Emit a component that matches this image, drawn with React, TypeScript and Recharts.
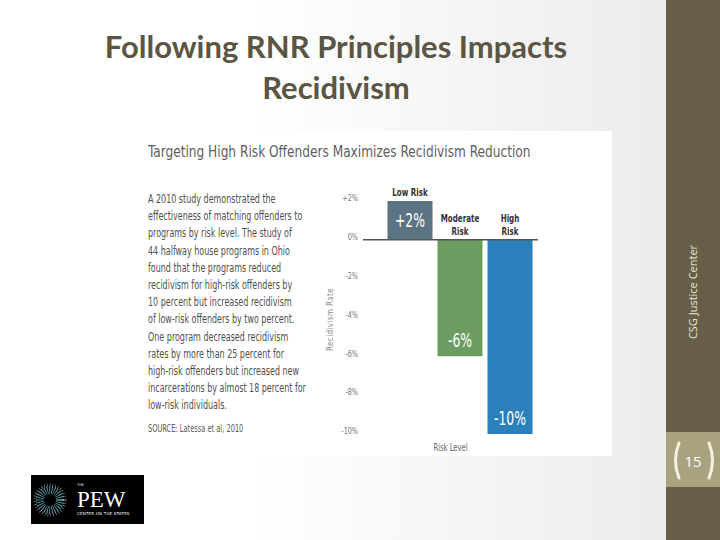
import React from 'react';
import { BarChart, Bar, XAxis, YAxis, Cell, LabelList, ReferenceLine } from 'recharts';

// values
const categories = ['Low Risk', 'Moderate Risk', 'High Risk'];
const changes = [2, -6, -10];
const barColors = ['#5b7383', '#6a9d5f', '#2a80ba'];
const yTicks = [2, 0, -2, -4, -6, -8, -10];

const blurb = [
    'A 2010 study demonstrated the',
    'effectiveness of matching offenders to',
    'programs by risk level. The study of',
    '44 halfway house programs in Ohio',
    'found that the programs reduced',
    'recidivism for high-risk offenders by',
    '10 percent but increased recidivism',
    'of low-risk offenders by two percent.',
    'One program decreased recidivism',
    'rates by more than 25 percent for',
    'high-risk offenders but increased new',
    'incarcerations by almost 18 percent for',
    'low-risk individuals.',
];

const data = categories.map((name, i) => ({ name, change: changes[i] }));

const NARROW = '"Liberation Sans Narrow", "DejaVu Sans Condensed", "DejaVu Sans", sans-serif';

const pct = (v: number) => (v > 0 ? `+${v}%` : `${v}%`);

// svg text squeezed horizontally, the source chart uses a condensed face
const Squeezed = ({ x, y, k, rotate, children, ...rest }: any) => (
    <text
        transform={`translate(${x} ${y})${rotate ? ` rotate(${rotate})` : ''} scale(${k} 1)`}
        fontFamily={NARROW}
        dominantBaseline="central"
        {...rest}
    >
        {children}
    </text>
);

function box(props: any) {
    const vb = props.viewBox && props.viewBox.width !== undefined ? props.viewBox : props;
    const { x, y, width, height } = vb;
    return { cx: x + width / 2, top: Math.min(y, y + height), bottom: Math.max(y, y + height) };
}

const ValueLabel = (props: any) => {
    const { cx, top, bottom } = box(props);
    const v = Number(props.value);
    const ty = v >= 0 ? (top + bottom) / 2 : bottom - 16;
    return (
        <Squeezed x={cx} y={ty} k={0.69} textAnchor="middle" fill="#fff" fontSize={20}>
            {pct(v)}
        </Squeezed>
    );
};

const NameLabel = (props: any) => {
    const { cx, top } = box(props);
    const i = categories.indexOf(props.value);
    const common = { textAnchor: 'middle', fill: '#333', fontSize: 11, fontWeight: 700, k: 0.72 };
    if (changes[i] >= 0) {
        return (
            <Squeezed x={cx} y={top - 9} {...common}>
                {props.value}
            </Squeezed>
        );
    }
    const words = String(props.value).split(' ');
    return (
        <Squeezed x={cx} y={top - 9} {...common}>
            <tspan x={0} y={-13}>{words[0]}</tspan>
            <tspan x={0} y={0}>{words[1]}</tspan>
        </Squeezed>
    );
};

const YTick = (props: any) => (
    <Squeezed x={props.x} y={props.y - 3} k={0.8} textAnchor="end" fill="#777" fontSize={9}>
        {pct(props.payload.value)}
    </Squeezed>
);

const YTitle = (props: any) => {
    const vb = props.viewBox;
    return (
        <Squeezed x={vb.x + 40} y={vb.y + vb.height / 2 + 2} rotate={-90} k={0.85} textAnchor="middle" fill="#8a8a8a" fontSize={9.5} letterSpacing={0.4}>
            Recidivism Rate
        </Squeezed>
    );
};

const XTitle = (props: any) => {
    const vb = props.viewBox;
    return (
        <Squeezed x={vb.x + vb.width / 2} y={vb.y + 14} k={0.72} textAnchor="middle" fill="#666" fontSize={10.5}>
            Risk Level
        </Squeezed>
    );
};

function PewLogo() {
    return (
        <svg width={113} height={49} style={{ position: 'absolute', left: 31, top: 475 }}>
            <rect width={113} height={49} fill="#000" />
            <circle cx={19} cy={25} r={10} fill="none" stroke="#5fa7b5" strokeWidth={8} strokeDasharray="0.8 1.4" />
            <circle cx={19} cy={25} r={15} fill="none" stroke="#c9dfe4" strokeWidth={3} strokeDasharray="0.6 2.2" opacity={0.7} />
            <text x={46} y={11} fill="#fff" fontSize={3.5} fontFamily="DejaVu Sans">THE</text>
            <text x={46} y={32} fill="#fff" fontSize={23} fontFamily='"Liberation Serif", serif'>PEW</text>
            <text x={46} y={40} fill="#fff" fontSize={4} fontFamily="DejaVu Sans" letterSpacing={0.2}>CENTER ON THE STATES</text>
        </svg>
    );
}

function Sidebar() {
    return (
        <svg width={54} height={540} style={{ position: 'absolute', left: 666, top: 0 }}>
            <rect width={54} height={540} fill="#665e48" />
            <text
                x={26}
                y={292}
                transform="rotate(-90 26 292)"
                textAnchor="middle"
                dominantBaseline="central"
                fill="#ebe7d6"
                fontSize={11}
                fontFamily='"Open Sans", sans-serif'
            >
                CSG Justice Center
            </text>
            <rect x={0} y={432} width={54} height={55} fill="#a9a27e" />
            <path d="M 13 443 Q 6 460.5 13 478" fill="none" stroke="#f4f1e4" strokeWidth={3} strokeLinecap="round" />
            <path d="M 43 443 Q 50 460.5 43 478" fill="none" stroke="#f4f1e4" strokeWidth={3} strokeLinecap="round" />
            <text x={27} y={461} textAnchor="middle" dominantBaseline="central" fill="#fff" fontSize={15} fontFamily='"Open Sans", sans-serif'>
                15
            </text>
        </svg>
    );
}

export default function App() {
    return (
        <div
            style={{
                position: 'relative',
                width: 720,
                height: 540,
                overflow: 'hidden',
                background: 'linear-gradient(to right, #ffffff 35%, #e9e9e9 100%)',
            }}
        >
            <style>{'body{margin:0}'}</style>
            <div
                style={{
                    position: 'absolute',
                    left: 0,
                    top: 26,
                    width: 672,
                    textAlign: 'center',
                    fontFamily: 'Lato, sans-serif',
                    fontWeight: 700,
                    fontSize: 31,
                    lineHeight: '41px',
                    color: '#5b5543',
                }}
            >
                Following RNR Principles Impacts
                <br />
                Recidivism
            </div>

            <div style={{ position: 'absolute', left: 140, top: 131, width: 472, height: 325, background: '#fff' }}>
                <div
                    style={{
                        position: 'absolute',
                        left: 8,
                        top: 11,
                        fontFamily: NARROW,
                        fontSize: 16.5,
                        color: '#5e5e5e',
                        whiteSpace: 'nowrap',
                        transform: 'scaleX(0.82)',
                        transformOrigin: 'left top',
                    }}
                >
                    Targeting High Risk Offenders Maximizes Recidivism Reduction
                </div>
                <div
                    style={{
                        position: 'absolute',
                        left: 8,
                        top: 60,
                        fontFamily: NARROW,
                        fontSize: 12,
                        lineHeight: '17.2px',
                        color: '#505050',
                        whiteSpace: 'nowrap',
                        transform: 'scaleX(0.74)',
                        transformOrigin: 'left top',
                    }}
                >
                    {blurb.map((l) => (
                        <div key={l}>{l}</div>
                    ))}
                    <div style={{ fontSize: 10, marginTop: 5, color: '#5a5a5a' }}>SOURCE: Latessa et al, 2010</div>
                </div>
                <div style={{ position: 'absolute', left: 0, top: 0 }}>
                    <BarChart width={472} height={325} data={data} margin={{ top: 70, right: 74, bottom: 0, left: 150 }}>
                        <XAxis
                            dataKey="name"
                            tick={false}
                            tickLine={false}
                            axisLine={false}
                            height={22}
                            padding={{ left: 21.5, right: 3.5 }}
                            label={XTitle}
                        />
                        <YAxis
                            width={73}
                            domain={[-10, 2]}
                            ticks={yTicks}
                            interval={0}
                            tickLine={false}
                            axisLine={false}
                            tickSize={0}
                            tickMargin={5}
                            tick={YTick}
                            label={YTitle}
                        />
                        <Bar dataKey="change" barSize={45} isAnimationActive={false}>
                            {data.map((d, i) => (
                                <Cell key={d.name} fill={barColors[i]} />
                            ))}
                            <LabelList dataKey="change" content={ValueLabel} />
                            <LabelList dataKey="name" content={NameLabel} />
                        </Bar>
                        <ReferenceLine y={0} stroke="#555" strokeWidth={1.5} />
                    </BarChart>
                </div>
            </div>

            <PewLogo />
            <Sidebar />
        </div>
    );
}
